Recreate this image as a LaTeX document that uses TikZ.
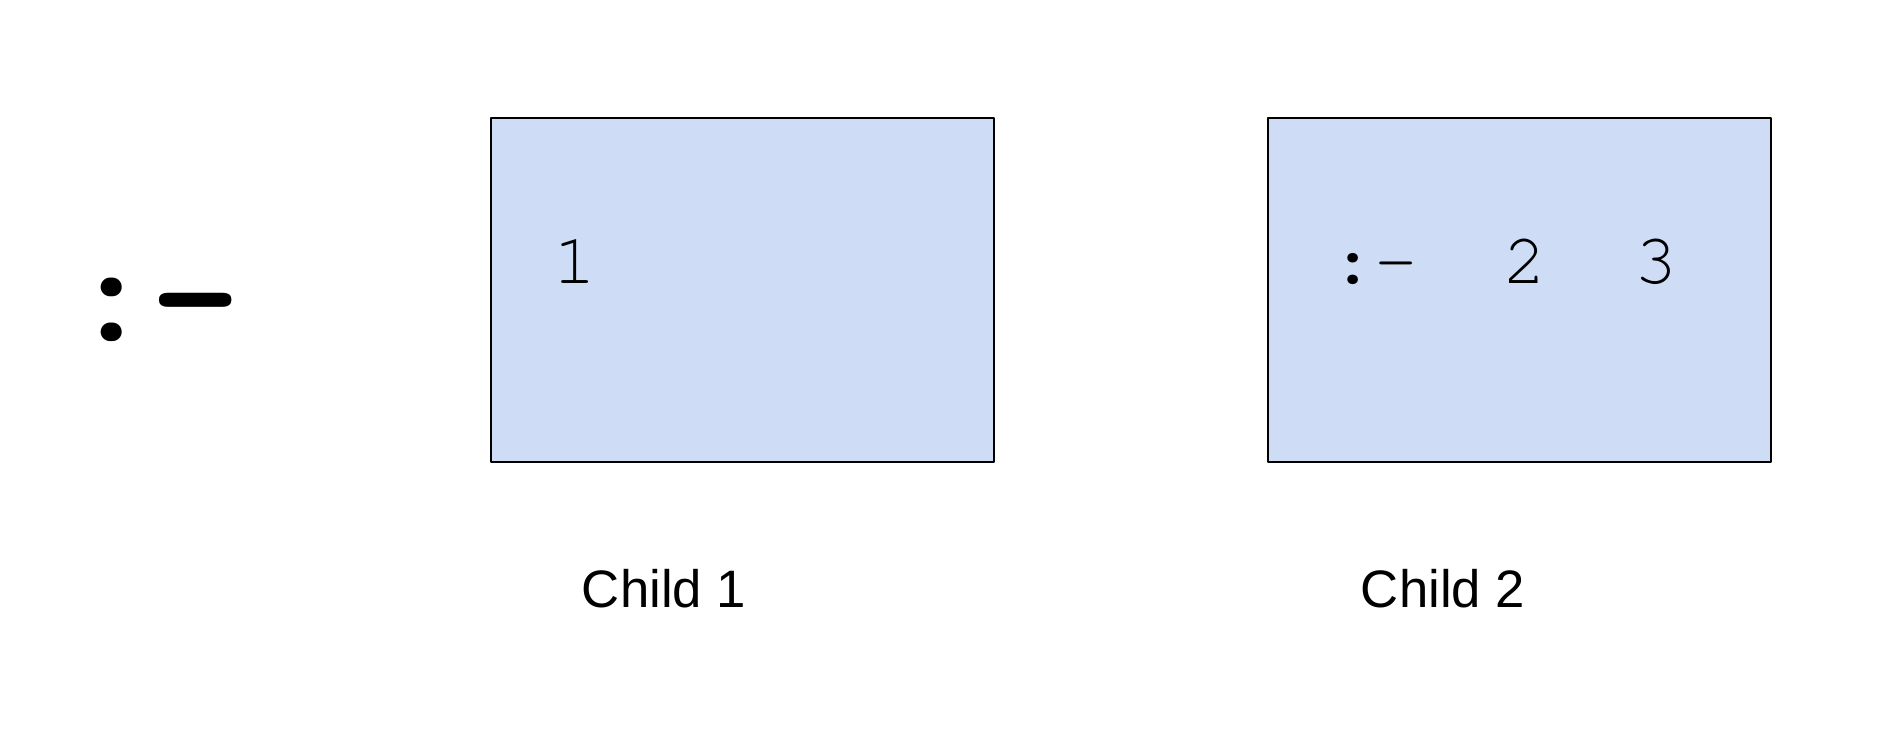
\documentclass[tikz,border=0pt]{standalone}
\usepackage{fontspec}
\setmainfont{Liberation Sans}
\newfontfamily\monofont{texgyrecursor-regular.otf}[BoldFont=texgyrecursor-bold.otf]
\definecolor{boxfill}{RGB}{207,220,245}
\begin{document}
\begin{tikzpicture}[x=0.02cm,y=-0.02cm,
  childbox/.style={draw=black,fill=boxfill,line width=1.6pt,line join=round},
  digit/.style={inner sep=0pt,anchor=base,font=\monofont\fontsize{41}{41}\selectfont},
  bigop/.style={inner sep=0pt,anchor=base,font=\monofont\bfseries\fontsize{80}{80}\selectfont},
  caption/.style={inner sep=0pt,anchor=base,font=\fontsize{30}{30}\selectfont}]
\useasboundingbox (0,0) rectangle (1884,756);
\node[bigop] (op) at (154,340) {:-};
\draw[childbox] (491,118) rectangle (994,462);
\coordinate (b1) at (742,290);
\draw[childbox] (1268,118) rectangle (1771,462);
\coordinate (b2) at (1519,290);
\node[digit] (one) at (575,284) {1};
\node[digit] (op2) at (1374.5,284) {:-};
\node[digit] (two) at (1525,284) {2};
\node[digit] (three) at (1656,284) {3};
\node[caption] (c1) at (664,608) {Child 1};
\node[caption] (c2) at (1443,608) {Child 2};
\end{tikzpicture}
\end{document}
